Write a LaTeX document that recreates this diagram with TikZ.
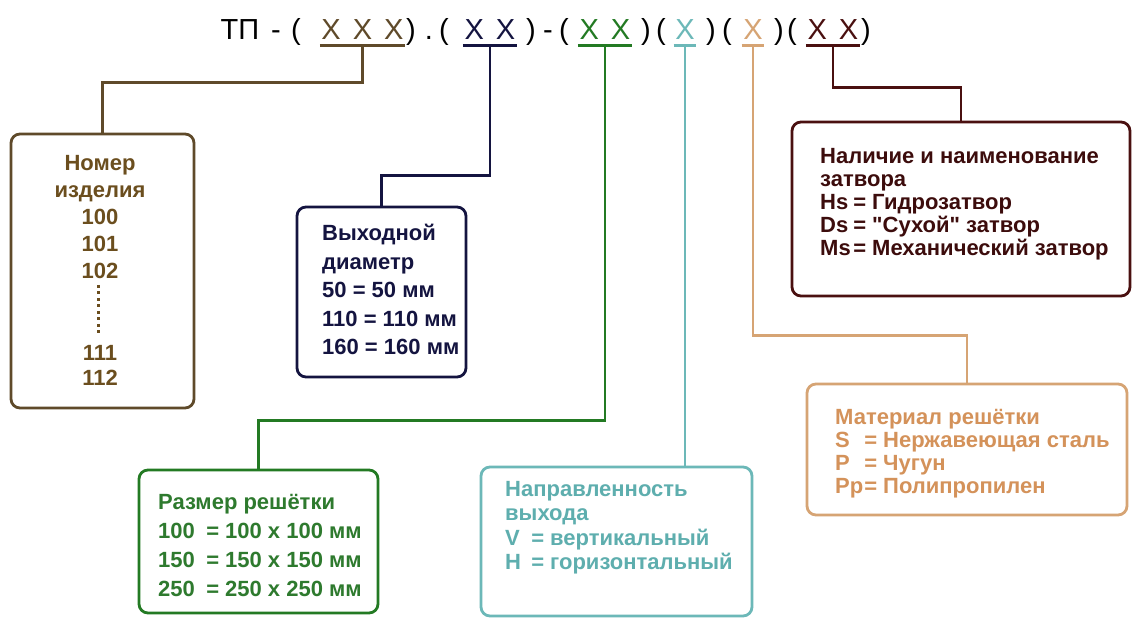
\documentclass[tikz,border=0pt]{standalone}
\usepackage{fontspec}
\setmainfont{Liberation Sans}[Ligatures=TeXOff]
\usetikzlibrary{positioning}

\definecolor{brnline}{HTML}{5F4A2A}
\definecolor{brntext}{HTML}{6B4E1E}
\definecolor{navyline}{HTML}{141440}
\definecolor{grnline}{HTML}{237A23}
\definecolor{grntext}{HTML}{2E7A2E}
\definecolor{cynline}{HTML}{6CB8B8}
\definecolor{cyntext}{HTML}{5EAEAE}
\definecolor{tanline}{HTML}{D6A474}
\definecolor{tantext}{HTML}{D4925A}
\definecolor{mrnline}{HTML}{4A1010}
\definecolor{mrntext}{HTML}{3C0C0C}

% key = value with the value in a column
\newcommand{\kv}[3]{\makebox[#1][s]{#2\hfill=\hspace{6pt}}#3}

\begin{document}
\begin{tikzpicture}[x=1pt, y=1pt,
    ttl/.style={font=\fontsize{29}{29}\selectfont, inner sep=0pt, anchor=base},
    grp/.style={ttl, inner xsep=1.5pt},
    box/.style={draw, line width=2.8pt, rounded corners=9pt, inner sep=0pt},
    lbl/.style={font=\bfseries\fontsize{22}{#1}\selectfont, align=left, inner sep=0pt, anchor=north west},
    link/.style={line width=2.8pt},
]
    \fill[white] (0,0) rectangle (1133,-620);
    \useasboundingbox (0,0) rectangle (1133,-620);

    % code line
    \foreach \x/\s [count=\i] in {240/{ТП}, 276/{-}, 296/{(}, 411/{)}, 429/{.}, 444/{(},
        531/{)}, 548/{-}, 564/{(}, 646/{)}, 661/{(}, 711/{)}, 727/{(}, 779/{)}, 792/{(}, 866/{)}} {
        \node[ttl] (s\i) at (\x,-40) {\s};
    }
    \node[grp, brnline]  (g1) at (362.5,-40) {X\hspace{12pt}X\hspace{12pt}X};
    \node[grp, navyline] (g2) at (490,-40) {X\hspace{12pt}X};
    \node[grp, grnline]  (g3) at (605,-40) {X\hspace{12pt}X};
    \node[grp, cynline]  (g4) at (685,-40) {X};
    \node[grp, tanline]  (g5) at (753,-40) {X};
    \node[grp, mrnline]  (g6) at (833,-40) {X\hspace{12pt}X};

    % boxes
    \node[box, brnline, minimum width=183, minimum height=274] (b1) at (102.5,-271) {};
    \node[box, navyline, minimum width=169, minimum height=170] (b2) at (381.5,-292) {};
    \node[box, grnline, minimum width=239, minimum height=143] (b3) at (258.5,-541.5) {};
    \node[box, cynline, minimum width=271, minimum height=149] (b4) at (616.5,-541.5) {};
    \node[box, tanline, minimum width=320, minimum height=131] (b5) at (967,-449.5) {};
    \node[box, mrnline, minimum width=338, minimum height=174] (b6) at (961,-209) {};

    % underlines and links
    \foreach \g/\b/\c/\h in {g1/b1/brnline/37, g2/b2/navyline/130, g3/b3/grnline/375,
        g5/b5/tanline/290, g6/b6/mrnline/42} {
        \draw[link, \c] ([yshift=-5pt]\g.south west) -- ([yshift=-5pt]\g.south east);
        \draw[link, \c] ([yshift=-5pt]\g.south) -- ++(0,-\h) -| (\b.north);
    }
    \draw[link, cynline] ([yshift=-5pt]g4.south west) -- ([yshift=-5pt]g4.south east);
    \draw[link, cynline] ([yshift=-5pt]g4.south) -- (g4.south |- b4.north);

    % texts
    \node[lbl=27, brntext, anchor=north, align=center] (t1a) at (100,-155) {Номер\\изделия\\100\\101\\102};
    \node[lbl=25, brntext, anchor=north, align=center] (t1b) at (100,-345) {111\\112};
    \draw[brntext, line width=3pt, dash pattern=on 3pt off 3.5pt] (98,-285) -- (98,-334);

    \node[lbl=28.5, navyline] (t2) at (322,-224)
        {Выходной\\диаметр\\50 = 50 мм\\110 = 110 мм\\160 = 160 мм};
    \node[lbl=29, grntext] (t3) at (158,-494)
        {Размер решётки\\\kv{67pt}{100}{100 x 100 мм}\\\kv{67pt}{150}{150 x 150 мм}\\\kv{67pt}{250}{250 x 250 мм}};
    \node[lbl=24.5, cyntext] (t4) at (505,-481)
        {Направленность\\выхода\\\kv{45pt}{V}{вертикальный}\\\kv{45pt}{H}{горизонтальный}};
    \node[lbl=23, tantext] (t5) at (835,-409)
        {Материал решётки\\\kv{48pt}{S}{Нержавеющая сталь}\\\kv{48pt}{P}{Чугун}\\\kv{48pt}{Pp}{Полипропилен}};
    \node[lbl=23, mrntext] (t6) at (820,-148)
        {Наличие и наименование\\затвора\\\kv{52pt}{Hs}{Гидрозатвор}\\\kv{52pt}{Ds}{"Сухой" затвор}\\\kv{52pt}{Ms}{Механический затвор}};
\end{tikzpicture}
\end{document}
